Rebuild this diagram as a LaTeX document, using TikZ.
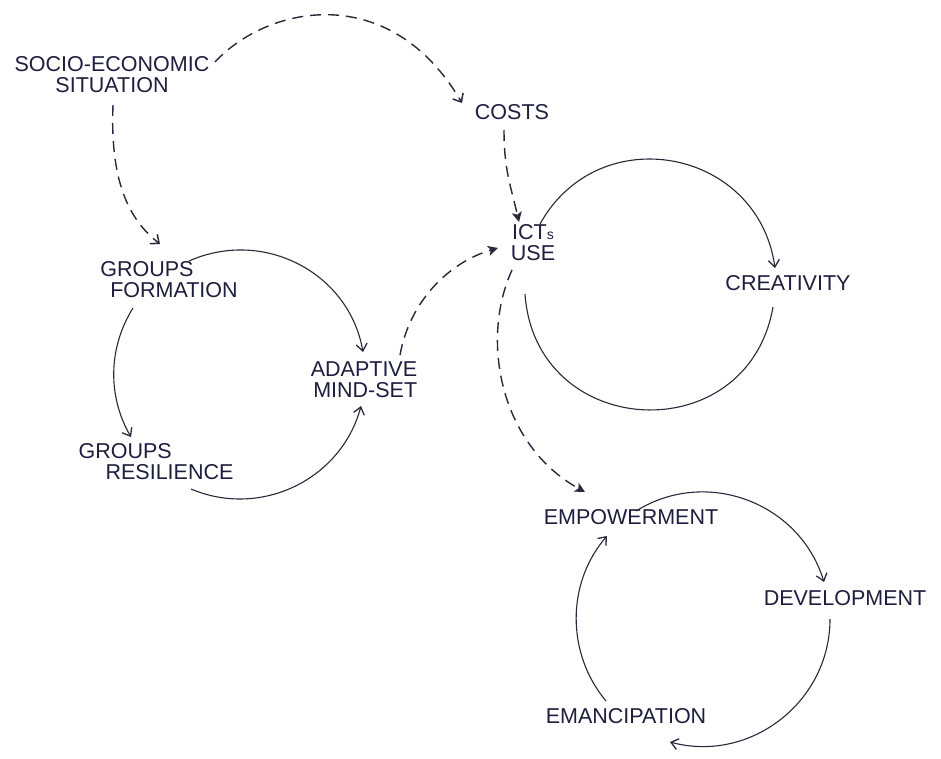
\documentclass[tikz,border=0pt]{standalone}
\usepackage{fontspec}
\setmainfont{Liberation Sans}
\usetikzlibrary{arrows.meta}
\definecolor{ink}{RGB}{30,30,62}
\definecolor{pen}{RGB}{40,40,60}
\begin{document}
\begin{tikzpicture}[x=1pt,y=1pt,
  txt/.style={text=ink, font=\fontsize{21.5}{21}\selectfont, inner sep=0pt},
  line/.style={draw=pen, line width=1.1pt},
  flow/.style={line, -{Straight Barb[length=7pt,width=11pt,line width=1.3pt]}},
  link/.style={draw=pen, line width=1.4pt, dash pattern=on 11pt off 7pt,
    -{Stealth[length=10pt,width=10pt,inset=2.5pt]}},
  vlink/.style={draw=pen, line width=1.4pt, dash pattern=on 11pt off 7pt,
    -{Straight Barb[length=7pt,width=12pt,line width=1.5pt]}}]
\fill[white] (0,0) rectangle (941,-758);
\useasboundingbox (0,0) rectangle (941,-758);

% concepts
\node[txt, align=center] (socio) at (112,-75) {SOCIO-ECONOMIC\\SITUATION};
\node[txt] (costs) at (512,-112) {COSTS};
\node[txt, align=center] (icts) at (533,-243) {ICT{\fontsize{14}{14}\selectfont s}\\USE};
\node[txt] (creat) at (788,-283) {CREATIVITY};
\node[txt, align=left] (gform) at (169,-280) {GROUPS\\\hspace*{10pt}FORMATION};
\node[txt, align=right] (adapt) at (364,-380) {ADAPTIVE\\MIND-SET};
\node[txt, align=left] (gres) at (156,-462) {GROUPS\\\hspace*{27pt}RESILIENCE};
\node[txt] (empow) at (631,-517) {EMPOWERMENT};
\node[txt] (devel) at (845,-598) {DEVELOPMENT};
\node[txt] (eman) at (626,-716) {EMANCIPATION};

% dashed influences
\draw[vlink] ([shift={(103,13)}]socio.center) .. controls +(53,57) and +(-72,123) .. ([shift={(-50,9)}]costs.center);
\draw[vlink] ([shift={(1,-30)}]socio.center) .. controls +(-3,-75) and +(-32,25) .. ([shift={(-9,36)}]gform.center);
\draw[link] ([shift={(-8,-18)}]costs.center) .. controls +(0,-40) and +(-8,35) .. ([shift={(-14,21)}]icts.center);
\draw[link] ([shift={(36,25)}]adapt.center) .. controls +(10,55) and +(-48,-14) .. ([shift={(-35,-5)}]icts.center);
\draw[link] ([shift={(-21,-27)}]icts.center) .. controls +(-32,-70) and +(-85,47) .. ([shift={(-46,25)}]empow.center);

% group loop
\draw[flow] ([shift={(20,19)}]gform.center) .. controls +(24:81) and +(100:81) .. ([shift={(-1,28)}]adapt.center);
\draw[flow] ([shift={(-36,-28)}]gform.center) .. controls +(238:47) and +(120:47) .. ([shift={(-25,25)}]gres.center);
\draw[flow] ([shift={(35,-27)}]gres.center) .. controls +(337:76) and +(255:76) .. ([shift={(-3,-26)}]adapt.center);

% ICT loop
\draw[flow] ([shift={(7,19)}]icts.center) .. controls +(61:121) and +(98:121) .. ([shift={(-13,15)}]creat.center);
\draw[line] ([shift={(-15,-24)}]creat.center) .. controls +(-100:147) and +(-86:147) .. ([shift={(-8,-51)}]icts.center);

% empowerment loop
\draw[flow] ([shift={(5,6)}]empow.center) .. controls +(32:83) and +(107:83) .. ([shift={(-21,16)}]devel.center);
\draw[flow] ([shift={(-15,-21)}]devel.center) .. controls +(-90:83) and +(-15:83) .. ([shift={(44,-26)}]eman.center);
\draw[flow] ([shift={(-20,15)}]eman.center) .. controls +(130:62) and +(229:62) .. ([shift={(-24,-19)}]empow.center);
\end{tikzpicture}
\end{document}
